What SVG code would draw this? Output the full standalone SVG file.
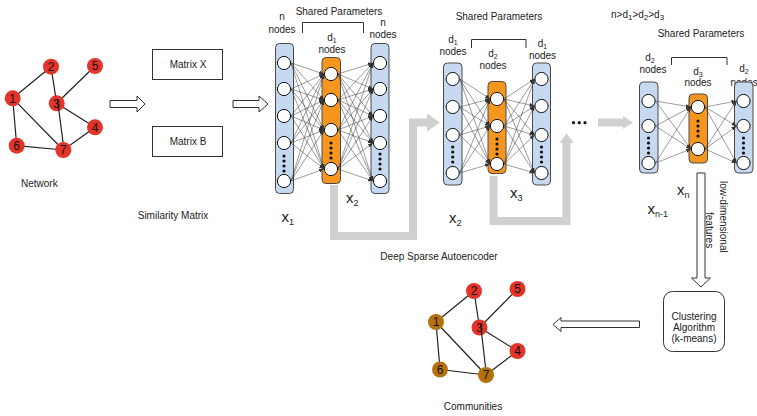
<svg xmlns="http://www.w3.org/2000/svg" width="757" height="416" viewBox="0 0 757 416">
<style>
.t{font-family:"Liberation Sans",Arial,sans-serif;font-size:10px;fill:#222}
.c{text-anchor:middle}
.xl{font-size:15px}
.sub{font-size:9px}
.col{fill:#c6d9f1;stroke:#4a4a4a;stroke-width:1}
.hid{fill:#f6961f;stroke:#4a4a4a;stroke-width:1}
.u{fill:#fff;stroke:#111;stroke-width:1}
.dot{fill:#111}
.w line{stroke:#3a3a3a;stroke-width:0.5;marker-end:url(#ah)}
.gray{fill:none;stroke:#d0d0d0;stroke-width:8}
.gh{fill:#d0d0d0}
.hollow{fill:#fff;stroke:#333;stroke-width:1}
.e line{stroke:#222;stroke-width:1.2}
.red{fill:#e3342a}
.brown{fill:#b5720c}
.lbl{font-family:"Liberation Sans",Arial,sans-serif;font-size:12px;text-anchor:middle;fill:#111}
.box{fill:#fff;stroke:#333;stroke-width:1}
.br{fill:none;stroke:#333;stroke-width:1}
</style>
<defs>
<marker id="ah" markerUnits="userSpaceOnUse" markerWidth="5" markerHeight="4" refX="5" refY="2" orient="auto">
<path d="M0,0L5,2L0,4z" fill="#333"/>
</marker>
</defs>

<!-- input network -->
<g id="network">
<g class="e">
<line x1="12.7" y1="98.3" x2="51" y2="66.7"/>
<line x1="12.7" y1="98.3" x2="16.7" y2="145.7"/>
<line x1="12.7" y1="98.3" x2="63.3" y2="150"/>
<line x1="51" y1="66.7" x2="56.7" y2="103.3"/>
<line x1="56.7" y1="103.3" x2="95" y2="66"/>
<line x1="56.7" y1="103.3" x2="95" y2="127.3"/>
<line x1="16.7" y1="145.7" x2="63.3" y2="150"/>
<line x1="63.3" y1="150" x2="95" y2="127.3"/>
</g>
<circle class="red" cx="12.7" cy="98.3" r="8"/>
<circle class="red" cx="51" cy="66.7" r="8"/>
<circle class="red" cx="95" cy="66" r="8"/>
<circle class="red" cx="56.7" cy="103.3" r="8"/>
<circle class="red" cx="95" cy="127.3" r="8"/>
<circle class="red" cx="16.7" cy="145.7" r="8"/>
<circle class="red" cx="63.3" cy="150" r="8"/>
<g class="e"><line x1="57.5" y1="100" x2="63" y2="142"/></g>
<text class="lbl" x="12.7" y="102.6">1</text>
<text class="lbl" x="51" y="71">2</text>
<text class="lbl" x="95" y="70.3">5</text>
<text class="lbl" x="56.7" y="107.6">3</text>
<text class="lbl" x="95" y="131.6">4</text>
<text class="lbl" x="16.7" y="150">6</text>
<text class="lbl" x="63.3" y="154.3">7</text>
<text class="t c" x="39.3" y="187">Network</text>
</g>

<!-- similarity matrices -->
<g id="matrix-x">
<rect class="box" x="152.5" y="49.5" width="70" height="30"/>
<text class="t c" x="188" y="67.5">Matrix X</text>
</g>
<g id="matrix-b">
<rect class="box" x="152.5" y="126.5" width="70" height="30"/>
<text class="t c" x="188" y="145">Matrix B</text>
</g>
<text class="t c" x="173" y="219">Similarity Matrix</text>

<!-- connectors -->
<g id="connectors">
<polygon class="hollow" points="110,100.5 137,100.5 137,96 145,104 137,112 137,107.5 110,107.5"/>
<polygon class="hollow" points="233,100.5 259,100.5 259,96 268,104 259,112 259,107.5 233,107.5"/>
<path class="gray" d="M334 185V236H413V122.5H428"/>
<polygon class="gh" points="427,113.5 440,122.5 427,131.5"/>
<path class="gray" d="M493.5 176V221H566.5V142"/>
<polygon class="gh" points="559.5,143 566.5,133.5 574,143"/>
<path class="gray" d="M598 122.5H624" stroke-width="7"/>
<polygon class="gh" points="623,116 633,122.5 623,129"/>
<polygon class="hollow" points="697,173 705,173 705,278 710.5,278 701,287 691.5,278 697,278"/>
<polygon class="hollow" points="639.5,321 561,321 561,317.5 553,324.5 561,331.5 561,327.5 639.5,327.5"/>
</g>

<!-- autoencoder 1: n -> d1 -> n -->
<g id="ae1">
<text class="t c" x="339" y="15">Shared Parameters</text>
<path class="br" d="M302.5 33V22.5H363.5V33"/>
<text class="t c" x="282" y="19.5">n</text>
<text class="t c" x="282" y="32.5">nodes</text>
<text class="t c" x="332" y="40.5">d<tspan font-size="7" dy="2">1</tspan></text>
<text class="t c" x="332" y="52.5">nodes</text>
<text class="t c" x="383" y="25.5">n</text>
<text class="t c" x="383" y="38">nodes</text>
<rect class="col" x="275.5" y="43.5" width="18" height="150" rx="4"/>
<rect class="hid" x="322" y="57.5" width="18.5" height="126" rx="4"/>
<rect class="col" x="371" y="43.5" width="18" height="150" rx="4"/>
<g class="w">
<line x1="291" y1="63" x2="324" y2="74"/><line x1="291" y1="63" x2="324" y2="100"/><line x1="291" y1="63" x2="324" y2="130"/><line x1="291" y1="63" x2="324" y2="169"/>
<line x1="291" y1="89" x2="324" y2="74"/><line x1="291" y1="89" x2="324" y2="100"/><line x1="291" y1="89" x2="324" y2="130"/><line x1="291" y1="89" x2="324" y2="169"/>
<line x1="291" y1="116" x2="324" y2="74"/><line x1="291" y1="116" x2="324" y2="100"/><line x1="291" y1="116" x2="324" y2="130"/><line x1="291" y1="116" x2="324" y2="169"/>
<line x1="291" y1="143" x2="324" y2="74"/><line x1="291" y1="143" x2="324" y2="100"/><line x1="291" y1="143" x2="324" y2="130"/><line x1="291" y1="143" x2="324" y2="169"/>
<line x1="291" y1="181" x2="324" y2="74"/><line x1="291" y1="181" x2="324" y2="100"/><line x1="291" y1="181" x2="324" y2="130"/><line x1="291" y1="181" x2="324" y2="169"/>
<line x1="338" y1="74" x2="373" y2="63"/><line x1="338" y1="74" x2="373" y2="89"/><line x1="338" y1="74" x2="373" y2="116"/><line x1="338" y1="74" x2="373" y2="143"/><line x1="338" y1="74" x2="373" y2="181"/>
<line x1="338" y1="100" x2="373" y2="63"/><line x1="338" y1="100" x2="373" y2="89"/><line x1="338" y1="100" x2="373" y2="116"/><line x1="338" y1="100" x2="373" y2="143"/><line x1="338" y1="100" x2="373" y2="181"/>
<line x1="338" y1="130" x2="373" y2="63"/><line x1="338" y1="130" x2="373" y2="89"/><line x1="338" y1="130" x2="373" y2="116"/><line x1="338" y1="130" x2="373" y2="143"/><line x1="338" y1="130" x2="373" y2="181"/>
<line x1="338" y1="169" x2="373" y2="63"/><line x1="338" y1="169" x2="373" y2="89"/><line x1="338" y1="169" x2="373" y2="116"/><line x1="338" y1="169" x2="373" y2="143"/><line x1="338" y1="169" x2="373" y2="181"/>
</g>
<g class="u">
<circle cx="284" cy="63" r="6.6"/><circle cx="284" cy="89" r="6.6"/><circle cx="284" cy="116" r="6.6"/><circle cx="284" cy="143" r="6.6"/><circle cx="284" cy="181" r="6.6"/>
<circle cx="331" cy="74" r="6.6"/><circle cx="331" cy="100" r="6.6"/><circle cx="331" cy="130" r="6.6"/><circle cx="331" cy="169" r="6.6"/>
<circle cx="380" cy="63" r="6.6"/><circle cx="380" cy="89" r="6.6"/><circle cx="380" cy="116" r="6.6"/><circle cx="380" cy="143" r="6.6"/><circle cx="380" cy="181" r="6.6"/>
</g>
<g class="dot">
<circle cx="284" cy="156" r="1.6"/><circle cx="284" cy="161" r="1.6"/><circle cx="284" cy="166" r="1.6"/><circle cx="284" cy="171" r="1.6"/>
<circle cx="331" cy="143" r="1.6"/><circle cx="331" cy="148" r="1.6"/><circle cx="331" cy="153" r="1.6"/><circle cx="331" cy="158" r="1.6"/>
<circle cx="380" cy="154" r="1.6"/><circle cx="380" cy="159" r="1.6"/><circle cx="380" cy="164" r="1.6"/><circle cx="380" cy="169" r="1.6"/>
</g>
<text class="t xl" x="281.5" y="221.7">x<tspan class="sub" dy="3">1</tspan></text>
<text class="t xl" x="346" y="202.7">x<tspan class="sub" dy="3">2</tspan></text>
</g>

<!-- autoencoder 2: d1 -> d2 -> d1 -->
<g id="ae2">
<text class="t c" x="499" y="19.5">Shared Parameters</text>
<path class="br" d="M471.5 48V39.5H526V48"/>
<text class="t c" x="453" y="42.5">d<tspan font-size="7" dy="2">1</tspan></text>
<text class="t c" x="453" y="55">nodes</text>
<text class="t c" x="493" y="56.5">d<tspan font-size="7" dy="2">2</tspan></text>
<text class="t c" x="493" y="69">nodes</text>
<text class="t c" x="542.5" y="46.5">d<tspan font-size="7" dy="2">1</tspan></text>
<text class="t c" x="542.5" y="59">nodes</text>
<rect class="col" x="443.5" y="63" width="18.5" height="122" rx="4"/>
<rect class="hid" x="488" y="81.5" width="18" height="92" rx="4"/>
<rect class="col" x="532.5" y="63" width="18" height="122" rx="4"/>
<g class="w">
<line x1="459.7" y1="79" x2="490" y2="99"/><line x1="459.7" y1="79" x2="490" y2="126"/><line x1="459.7" y1="79" x2="490" y2="164"/>
<line x1="459.7" y1="107" x2="490" y2="99"/><line x1="459.7" y1="107" x2="490" y2="126"/><line x1="459.7" y1="107" x2="490" y2="164"/>
<line x1="459.7" y1="135" x2="490" y2="99"/><line x1="459.7" y1="135" x2="490" y2="126"/><line x1="459.7" y1="135" x2="490" y2="164"/>
<line x1="459.7" y1="173" x2="490" y2="99"/><line x1="459.7" y1="173" x2="490" y2="126"/><line x1="459.7" y1="173" x2="490" y2="164"/>
<line x1="504" y1="99" x2="534.5" y2="79"/><line x1="504" y1="99" x2="534.5" y2="106"/><line x1="504" y1="99" x2="534.5" y2="135"/><line x1="504" y1="99" x2="534.5" y2="173"/>
<line x1="504" y1="126" x2="534.5" y2="79"/><line x1="504" y1="126" x2="534.5" y2="106"/><line x1="504" y1="126" x2="534.5" y2="135"/><line x1="504" y1="126" x2="534.5" y2="173"/>
<line x1="504" y1="164" x2="534.5" y2="79"/><line x1="504" y1="164" x2="534.5" y2="106"/><line x1="504" y1="164" x2="534.5" y2="135"/><line x1="504" y1="164" x2="534.5" y2="173"/>
</g>
<g class="u">
<circle cx="452.7" cy="79" r="6.6"/><circle cx="452.7" cy="107" r="6.6"/><circle cx="452.7" cy="135" r="6.6"/><circle cx="452.7" cy="173" r="6.6"/>
<circle cx="497" cy="99" r="6.6"/><circle cx="497" cy="126" r="6.6"/><circle cx="497" cy="164" r="6.6"/>
<circle cx="541.5" cy="79" r="6.6"/><circle cx="541.5" cy="106" r="6.6"/><circle cx="541.5" cy="135" r="6.6"/><circle cx="541.5" cy="173" r="6.6"/>
</g>
<g class="dot">
<circle cx="452.7" cy="147" r="1.6"/><circle cx="452.7" cy="152" r="1.6"/><circle cx="452.7" cy="157" r="1.6"/><circle cx="452.7" cy="162" r="1.6"/>
<circle cx="497" cy="139" r="1.6"/><circle cx="497" cy="144" r="1.6"/><circle cx="497" cy="149" r="1.6"/><circle cx="497" cy="154" r="1.6"/>
<circle cx="541.5" cy="147" r="1.6"/><circle cx="541.5" cy="152" r="1.6"/><circle cx="541.5" cy="157" r="1.6"/><circle cx="541.5" cy="162" r="1.6"/>
</g>
<text class="t xl" x="449" y="223.3">x<tspan class="sub" dy="3">2</tspan></text>
<text class="t xl" x="510" y="198.3">x<tspan class="sub" dy="3">3</tspan></text>
</g>

<g id="ellipsis" class="dot">
<circle cx="573.5" cy="122.7" r="1.6"/><circle cx="579.3" cy="122.7" r="1.6"/><circle cx="585" cy="122.7" r="1.6"/>
</g>

<text class="t c" x="439" y="259.5">Deep Sparse Autoencoder</text>

<!-- autoencoder n: d2 -> d3 -> d2 -->
<g id="aen">
<text class="t" x="611" y="18" font-size="11">n&gt;d<tspan font-size="8" dy="2">1</tspan><tspan dy="-2">&gt;d</tspan><tspan font-size="8" dy="2">2</tspan><tspan dy="-2">&gt;d</tspan><tspan font-size="8" dy="2">3</tspan></text>
<text class="t c" x="701" y="36.5">Shared Parameters</text>
<path class="br" d="M671.5 65V57.5H727V65"/>
<text class="t c" x="650" y="60.5">d<tspan font-size="7" dy="2">2</tspan></text>
<text class="t c" x="653" y="73">nodes</text>
<text class="t c" x="698" y="74.5">d<tspan font-size="7" dy="2">3</tspan></text>
<text class="t c" x="698" y="86">nodes</text>
<text class="t c" x="744" y="71.5">d<tspan font-size="7" dy="2">2</tspan></text>
<text class="t" x="730.5" y="86" font-size="9.5">nodes</text>
<rect class="col" x="639.5" y="82" width="18.5" height="91" rx="4"/>
<rect class="hid" x="689" y="94" width="18.5" height="69" rx="4"/>
<rect class="col" x="734.5" y="82" width="18.5" height="91" rx="4"/>
<g class="w">
<line x1="655.5" y1="101" x2="691" y2="107"/><line x1="655.5" y1="101" x2="691" y2="149"/>
<line x1="655.5" y1="126" x2="691" y2="107"/><line x1="655.5" y1="126" x2="691" y2="149"/>
<line x1="655.5" y1="163" x2="691" y2="107"/><line x1="655.5" y1="163" x2="691" y2="149"/>
<line x1="705" y1="107" x2="736.5" y2="101"/><line x1="705" y1="107" x2="736.5" y2="126"/><line x1="705" y1="107" x2="736.5" y2="163"/>
<line x1="705" y1="149" x2="736.5" y2="101"/><line x1="705" y1="149" x2="736.5" y2="126"/><line x1="705" y1="149" x2="736.5" y2="163"/>
</g>
<g class="u">
<circle cx="648.5" cy="101" r="6.6"/><circle cx="648.5" cy="126" r="6.6"/><circle cx="648.5" cy="163" r="6.6"/>
<circle cx="698" cy="107" r="6.6"/><circle cx="698" cy="149" r="6.6"/>
<circle cx="743.5" cy="101" r="6.6"/><circle cx="743.5" cy="126" r="6.6"/><circle cx="743.5" cy="163" r="6.6"/>
</g>
<g class="dot">
<circle cx="648.5" cy="138" r="1.6"/><circle cx="648.5" cy="143" r="1.6"/><circle cx="648.5" cy="148" r="1.6"/><circle cx="648.5" cy="153" r="1.6"/>
<circle cx="698" cy="121" r="1.6"/><circle cx="698" cy="126" r="1.6"/><circle cx="698" cy="131" r="1.6"/><circle cx="698" cy="136" r="1.6"/>
<circle cx="743.5" cy="138" r="1.6"/><circle cx="743.5" cy="143" r="1.6"/><circle cx="743.5" cy="148" r="1.6"/><circle cx="743.5" cy="153" r="1.6"/>
</g>
<text class="t xl" x="677" y="195">x<tspan class="sub" dy="3">n</tspan></text>
<text class="t xl" x="647.5" y="214">x<tspan class="sub" dy="3">n-1</tspan></text>
</g>

<text class="t" font-size="12" transform="translate(719.5,181) rotate(90)">low-dimensional</text>
<text class="t" font-size="12" transform="translate(705.5,212) rotate(90)">features</text>

<g id="clustering">
<rect class="box" x="663.5" y="291.5" width="61" height="60" rx="9"/>
<text class="t c" x="694" y="320">Clustering</text>
<text class="t c" x="694" y="331">Algorithm</text>
<text class="t c" x="694" y="342">(k-means)</text>
</g>

<!-- detected communities -->
<g id="communities">
<g class="e">
<line x1="436" y1="322" x2="474" y2="291"/>
<line x1="436" y1="322" x2="440" y2="369.5"/>
<line x1="436" y1="322" x2="486" y2="375"/>
<line x1="474" y1="291" x2="479.5" y2="327.5"/>
<line x1="479.5" y1="327.5" x2="517.5" y2="289"/>
<line x1="479.5" y1="327.5" x2="517.5" y2="351"/>
<line x1="440" y1="369.5" x2="486" y2="375"/>
<line x1="486" y1="375" x2="517.5" y2="351"/>
</g>
<circle class="brown" cx="436" cy="322" r="8"/>
<circle class="red" cx="474" cy="291" r="8"/>
<circle class="red" cx="517.5" cy="289" r="8"/>
<circle class="red" cx="479.5" cy="327.5" r="8"/>
<circle class="red" cx="517.5" cy="351" r="8"/>
<circle class="brown" cx="440" cy="369.5" r="8"/>
<circle class="brown" cx="486" cy="375" r="8"/>
<g class="e"><line x1="480.5" y1="324" x2="485.5" y2="367"/></g>
<text class="lbl" x="436" y="326.3">1</text>
<text class="lbl" x="474" y="295.3">2</text>
<text class="lbl" x="517.5" y="293.3">5</text>
<text class="lbl" x="479.5" y="331.8">3</text>
<text class="lbl" x="517.5" y="355.3">4</text>
<text class="lbl" x="440" y="373.8">6</text>
<text class="lbl" x="486" y="379.3">7</text>
<text class="t c" x="473" y="410">Communities</text>
</g>
</svg>
